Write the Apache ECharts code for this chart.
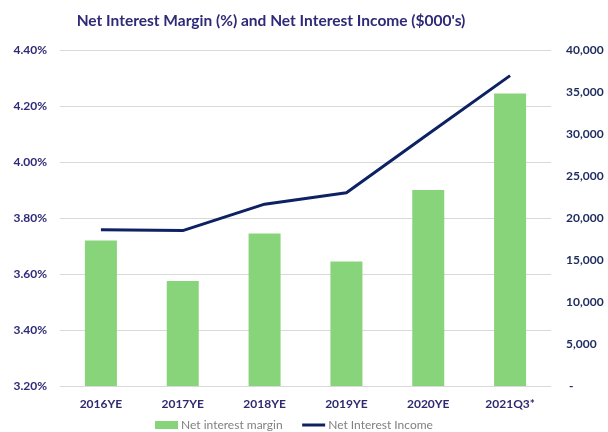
<!DOCTYPE html>
<html>
<head>
<meta charset="utf-8">
<script src="https://cdn.jsdelivr.net/npm/echarts@6/dist/echarts.min.js"></script>
<style>html,body{margin:0;padding:0;background:#fff}#c{width:608px;height:432px}</style>
</head>
<body>
<div id="c"></div>
<script>
const categories = ['2016YE','2017YE','2018YE','2019YE','2020YE','2021Q3*'];
const netInterestMargin = [3.72, 3.575, 3.745, 3.645, 3.90, 4.245];
const netInterestIncome = [18600, 18500, 21650, 23000, 30000, 36950];
const leftTicks = {min: 3.2, max: 4.4, interval: 0.2};
const rightTicks = {min: 0, max: 40000, interval: 5000};

const chart = echarts.init(document.getElementById('c'), null, {renderer: 'canvas'});
const FONT = 'Lato';
chart.setOption({
  animation: false,
  backgroundColor: '#ffffff',
  title: {
    text: "Net Interest Margin (%) and Net Interest Income ($000's)",
    left: 266, top: 8, textAlign: 'center',
    textStyle: {fontFamily: FONT, fontWeight: 'bold', fontSize: 15.5, color: '#2e2a78'}
  },
  legend: {
    left: 150, top: 414, itemGap: 18, itemWidth: 23, itemHeight: 8,
    textStyle: {fontFamily: FONT, fontSize: 12, color: '#808080', padding: [0,0,0,-2]},
    data: [{name: 'Net interest margin', icon: 'rect'},
           {name: 'Net Interest Income', itemStyle: {opacity: 0}, lineStyle: {width: 3, color: '#0e2163'}}]
  },
  grid: {left: 60, right: 57, top: 50, bottom: 46, containLabel: false},
  xAxis: {
    type: 'category', data: categories,
    axisLine: {show: false}, axisTick: {show: false},
    axisLabel: {fontFamily: FONT, fontWeight: 'bold', fontSize: 12, color: '#2e2a6e', margin: 12}
  },
  yAxis: [{
    type: 'value', min: leftTicks.min, max: leftTicks.max, interval: leftTicks.interval,
    axisLine: {show: false}, axisTick: {show: false},
    splitLine: {lineStyle: {color: '#d9d9d9', width: 1}},
    axisLabel: {fontFamily: FONT, fontWeight: 'bold', fontSize: 12, color: '#2e2a78', margin: 13,
      formatter: v => v.toFixed(2) + '%'}
  }, {
    type: 'value', min: rightTicks.min, max: rightTicks.max, interval: rightTicks.interval,
    axisLine: {show: false}, axisTick: {show: false}, splitLine: {show: false},
    axisLabel: {fontFamily: FONT, fontWeight: 'bold', fontSize: 12, color: '#1c2a5e', margin: 15,
      formatter: v => v === 0 ? ' -' : v.toLocaleString('en-US')}
  }],
  series: [{
    name: 'Net interest margin', type: 'bar', yAxisIndex: 0, data: netInterestMargin,
    barWidth: 32, itemStyle: {color: '#88d47a'}
  }, {
    name: 'Net Interest Income', type: 'line', yAxisIndex: 1, data: netInterestIncome,
    symbol: 'none', lineStyle: {color: '#0e2163', width: 3}, itemStyle: {color: '#0e2163'}
  }]
});
</script>
</body>
</html>
